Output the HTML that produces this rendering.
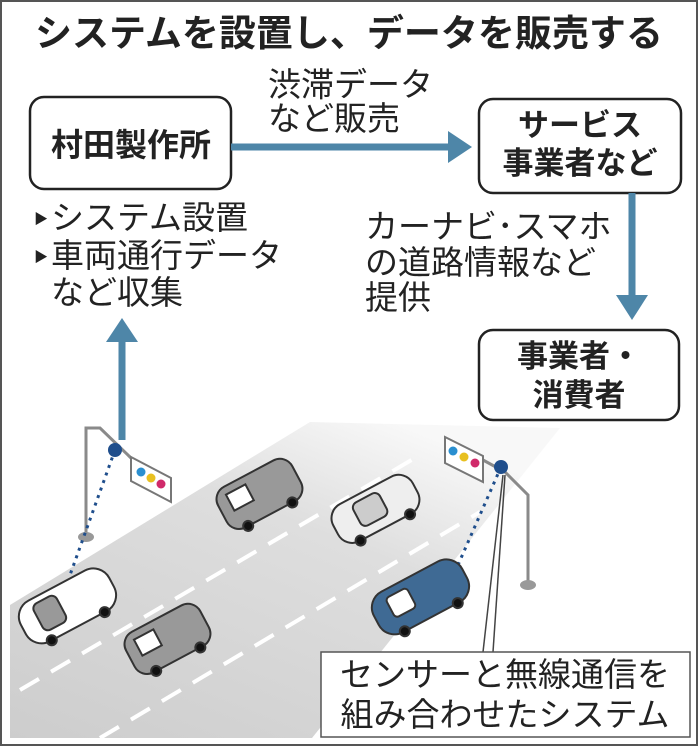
<!DOCTYPE html>
<html><head><meta charset="utf-8"><style>
html,body{margin:0;padding:0;background:#fff}
svg{display:block}
text{font-family:"Liberation Sans","Noto Sans CJK JP",sans-serif;fill:#222}
</style></head><body>
<svg width="698" height="746" viewBox="0 0 698 746" xmlns="http://www.w3.org/2000/svg">
<defs>
<linearGradient id="rg" x1="0" y1="1" x2="0.7" y2="0">
<stop offset="0" stop-color="#cdcdcd"/><stop offset="0.7" stop-color="#dedede"/><stop offset="1" stop-color="#f8f8f8"/>
</linearGradient>
</defs>
<rect x="1" y="1" width="696" height="744" fill="#fff" stroke="#555" stroke-width="2"/>
<!-- road -->
<polygon points="10,605 310,422 560,428 312,738 10,738" fill="url(#rg)"/>
<g stroke="#fff" stroke-width="4" stroke-dasharray="22,14" fill="none">
<line x1="20" y1="690" x2="420" y2="455"/>
<line x1="100" y1="738" x2="480" y2="512"/>
</g>
<!-- title -->
<text x="349" y="46" font-size="37" font-weight="bold" text-anchor="middle">システムを設置し、データを販売する</text>
<!-- boxes -->
<rect x="30" y="97" width="201" height="92" rx="14" fill="#fff" stroke="#222" stroke-width="2.5"/>
<text x="131" y="156" font-size="32" font-weight="bold" text-anchor="middle">村田製作所</text>
<rect x="479" y="99" width="202" height="94" rx="14" fill="#fff" stroke="#222" stroke-width="2.5"/>
<text x="580" y="136" font-size="31" font-weight="bold" text-anchor="middle">サービス</text>
<text x="580" y="174" font-size="31" font-weight="bold" text-anchor="middle">事業者など</text>
<rect x="479" y="330" width="200" height="90" rx="14" fill="#fff" stroke="#222" stroke-width="2.5"/>
<text x="579" y="367" font-size="31" font-weight="bold" text-anchor="middle">事業者・</text>
<text x="579" y="406" font-size="31" font-weight="bold" text-anchor="middle">消費者</text>
<!-- arrows -->
<line x1="231" y1="147" x2="450" y2="147" stroke="#4e86a8" stroke-width="7"/>
<polygon points="448,131 472,147 448,163" fill="#4e86a8"/>
<line x1="632" y1="193" x2="632" y2="298" stroke="#4e86a8" stroke-width="7"/>
<polygon points="616,295 632,320 648,295" fill="#4e86a8"/>
<line x1="122" y1="440" x2="122" y2="340" stroke="#4e86a8" stroke-width="7"/>
<polygon points="106,342 122,318 138,342" fill="#4e86a8"/>
<!-- labels -->
<text x="268" y="96" font-size="33">渋滞データ</text>
<text x="268" y="130" font-size="33">など販売</text>
<text x="34" y="224" font-size="14">▶</text>
<text x="51" y="229" font-size="33">システム設置</text>
<text x="34" y="262" font-size="14">▶</text>
<text x="51" y="267" font-size="33">車両通行データ</text>
<text x="51" y="304" font-size="33">など収集</text>
<text x="365" y="238" font-size="33">カーナビ･スマホ</text>
<text x="365" y="274" font-size="33">の道路情報など</text>
<text x="365" y="309" font-size="33">提供</text>
<!-- poles -->
<g stroke="#8a8a8a" stroke-width="3" fill="none">
<polyline points="86,535 86,428 100,428 131,458"/>
<polyline points="528,583 528,495 505,472 483,460"/>
</g>
<ellipse cx="86" cy="537" rx="8" ry="5" fill="#999"/>
<ellipse cx="528" cy="585" rx="8" ry="5" fill="#999"/>
<polygon points="131,457 171,478 171,502 131,481" fill="#fff" stroke="#777" stroke-width="2"/>
<circle cx="141" cy="472" r="4.5" fill="#2a8fd0"/><circle cx="151" cy="478" r="4.5" fill="#e8c020"/><circle cx="161" cy="484" r="4.5" fill="#d02a6a"/>
<polygon points="445,437 483,456 483,482 445,463" fill="#fff" stroke="#777" stroke-width="2"/>
<circle cx="453" cy="451" r="4.5" fill="#2a8fd0"/><circle cx="464" cy="457" r="4.5" fill="#e8c020"/><circle cx="475" cy="463" r="4.5" fill="#d02a6a"/>
<line x1="115" y1="450" x2="70" y2="575" stroke="#1f4e8c" stroke-width="3" stroke-dasharray="3,5"/>
<circle cx="115" cy="450" r="7" fill="#1f4e8c"/>
<line x1="501" y1="467" x2="458" y2="565" stroke="#1f4e8c" stroke-width="3" stroke-dasharray="3,5"/>
<circle cx="501" cy="467" r="7" fill="#1f4e8c"/>
<!-- leader -->
<line x1="503" y1="475" x2="483" y2="652" stroke="#444" stroke-width="1.5"/>
<line x1="505" y1="475" x2="493" y2="652" stroke="#444" stroke-width="1.5"/>
<!-- cars -->
<g stroke="#333" stroke-width="2">
<g transform="translate(67,605) rotate(-28)"><rect x="-50" y="-22" width="100" height="46" rx="18" fill="#fff"/><rect x="-32" y="-16" width="26" height="30" rx="6" fill="#999"/><circle cx="30" cy="24" r="5" fill="#111"/><circle cx="-30" cy="24" r="5" fill="#111"/></g>
<g transform="translate(167,638) rotate(-28)"><rect x="-42" y="-22" width="84" height="46" rx="14" fill="#999"/><rect x="-30" y="-14" width="22" height="18" fill="#fff"/><circle cx="25" cy="24" r="5" fill="#111"/><circle cx="-25" cy="24" r="5" fill="#111"/></g>
<g transform="translate(259,493) rotate(-28)"><rect x="-42" y="-22" width="84" height="46" rx="14" fill="#999"/><rect x="-30" y="-14" width="22" height="18" fill="#fff"/><circle cx="25" cy="24" r="5" fill="#111"/><circle cx="-25" cy="24" r="5" fill="#111"/></g>
<g transform="translate(375,508) rotate(-28)"><rect x="-45" y="-20" width="90" height="42" rx="16" fill="#eee"/><rect x="-20" y="-14" width="30" height="26" rx="6" fill="#ccc"/><circle cx="28" cy="22" r="5" fill="#111"/><circle cx="-28" cy="22" r="5" fill="#111"/></g>
<g transform="translate(420,596) rotate(-28)"><rect x="-50" y="-22" width="100" height="46" rx="18" fill="#3f6a94"/><rect x="-32" y="-14" width="24" height="22" rx="4" fill="#fff"/><circle cx="30" cy="24" r="5" fill="#111"/><circle cx="-30" cy="24" r="5" fill="#111"/></g>
</g>
<!-- bottom label -->
<rect x="321" y="652" width="369" height="85" fill="#fff" stroke="#555" stroke-width="1.5"/>
<text x="505" y="686" font-size="33" text-anchor="middle">センサーと無線通信を</text>
<text x="505" y="726" font-size="33" text-anchor="middle">組み合わせたシステム</text>
</svg>
</body></html>
